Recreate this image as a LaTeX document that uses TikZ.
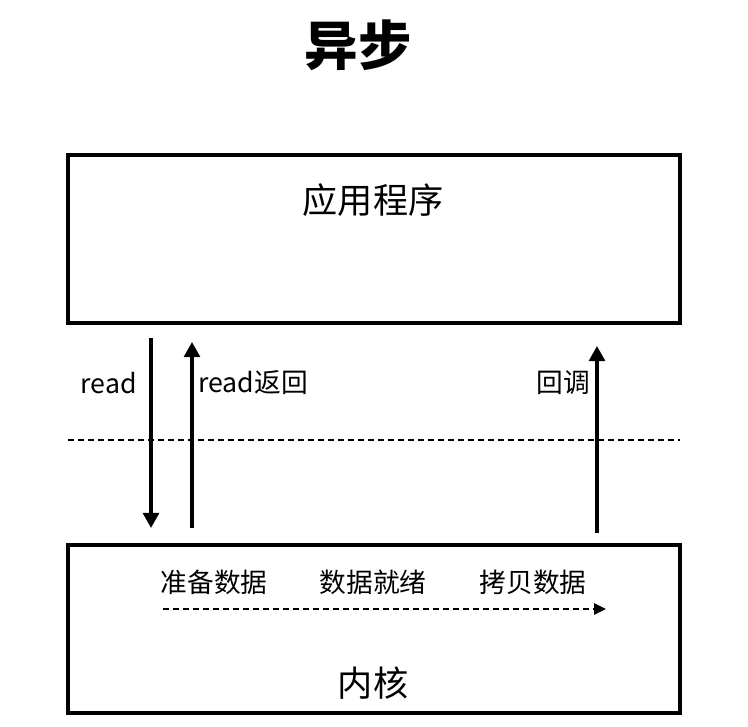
\documentclass[tikz,border=0pt]{standalone}
\usepackage{fontspec}
\setmainfont{Noto Sans CJK SC}
\usetikzlibrary{arrows.meta,positioning,calc}

\begin{document}
\begin{tikzpicture}[
    x=0.025cm, y=-0.025cm,
    layer/.style={rectangle, draw=black, line width=2.3pt, minimum width=15.3cm, minimum height=4.2cm},
    label/.style={font=\fontsize{19}{22}\selectfont, inner sep=0pt},
    flow/.style={line width=2.3pt, -{Triangle[length=0.38cm, width=0.4cm]}},
    sep/.style={line width=1.5pt, dash pattern=on 0.15cm off 0.1cm},
    >=Stealth
]
\useasboundingbox (0,0) rectangle (748,727);

\node[font=\fontsize{38}{44}\selectfont\bfseries, inner sep=0pt] (title) at (358,45) {异步};

\node[layer] (app) at (374,239) {};
\node[layer] (kernel) at (374,629) {};
\node[font=\fontsize{25}{30}\selectfont, inner sep=0pt] (appname) at (373,200) {应用程序};
\node[font=\fontsize{25}{30}\selectfont, inner sep=0pt] (kname) at (373,683) {内核};

% user / kernel boundary
\coordinate (sepl) at (68,440);
\coordinate (sepr) at (680,440);
\draw[sep] (sepl) -- (sepr);

% read call and return
\coordinate (rd1) at (151,338);
\coordinate (rd2) at (151,528);
\coordinate (rt1) at (192,528);
\coordinate (rt2) at (192,342);
\coordinate (cb1) at (597,533);
\coordinate (cb2) at (597,346);
\draw[flow] (rd1) -- (rd2);
\draw[flow] (rt1) -- (rt2);
\draw[flow] (cb1) -- (cb2);
\node[label, anchor=east] (readl) at (137,383) {read};
\node[label, anchor=west] (retl) at (198,383) {read返回};
\node[label, anchor=east] (cbl) at (590,383) {回调};

% kernel stages
\node[label] (prep) at (214,582) {准备数据};
\node[label] (ready) at (373,582) {数据就绪};
\node[label] (copy) at (533,582) {拷贝数据};
\coordinate (st1) at (163,609);
\coordinate (st2) at (606,609);
\draw[sep, -{Triangle[length=0.3cm, width=0.28cm]}] (st1) -- (st2);
\end{tikzpicture}
\end{document}
